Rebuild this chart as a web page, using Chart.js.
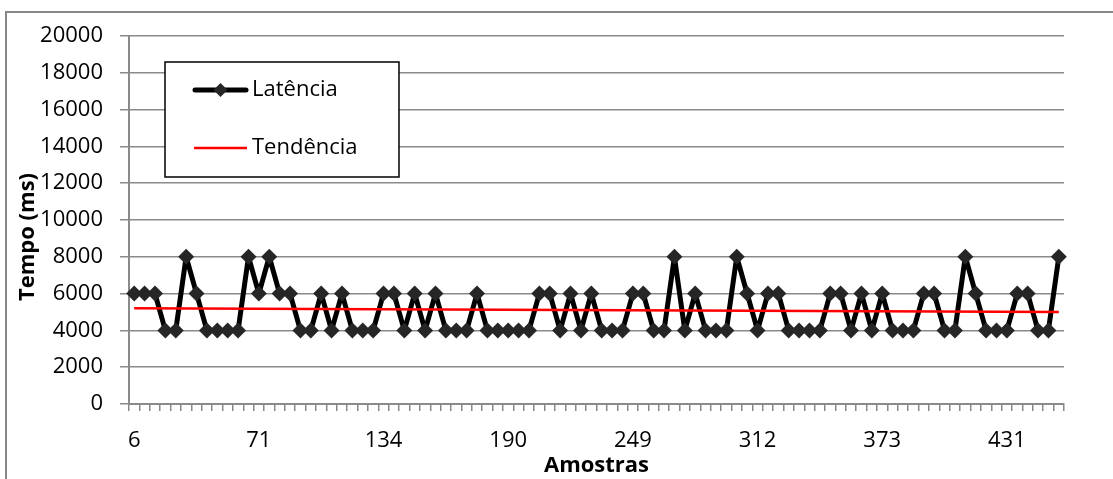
<!DOCTYPE html>
<html>
<head>
<meta charset="utf-8">
<script src="https://cdn.jsdelivr.net/npm/chart.js@4/dist/chart.umd.min.js"></script>
<style>
  html, body { margin: 0; padding: 0; background: #ffffff; }
  canvas { display: block; }
</style>
</head>
<body>
<canvas id="chart" width="1113" height="479"></canvas>
<script>
// Sample numbers along the horizontal axis (every 12th one is labelled)
const samples = [
  6, 11, 17, 22, 28, 33, 38, 44, 49, 55, 60, 66,
  71, 76, 82, 87, 92, 97, 103, 108, 113, 118, 124, 129,
  134, 139, 143, 148, 153, 157, 162, 167, 171, 176, 181, 185,
  190, 195, 200, 205, 210, 215, 220, 224, 229, 234, 239, 244,
  249, 254, 260, 265, 270, 275, 281, 286, 291, 296, 302, 307,
  312, 317, 322, 327, 332, 337, 343, 348, 353, 358, 363, 368,
  373, 378, 383, 387, 392, 397, 402, 407, 412, 416, 421, 426,
  431, 436, 441, 446, 451, 456
];

// Measured latency per sample, in ms
const latencia = [
  6000, 6000, 6000, 4000, 4000, 8000, 6000, 4000, 4000, 4000, 4000, 8000,
  6000, 8000, 6000, 6000, 4000, 4000, 6000, 4000, 6000, 4000, 4000, 4000,
  6000, 6000, 4000, 6000, 4000, 6000, 4000, 4000, 4000, 6000, 4000, 4000,
  4000, 4000, 4000, 6000, 6000, 4000, 6000, 4000, 6000, 4000, 4000, 4000,
  6000, 6000, 4000, 4000, 8000, 4000, 6000, 4000, 4000, 4000, 8000, 6000,
  4000, 6000, 6000, 4000, 4000, 4000, 4000, 6000, 6000, 4000, 6000, 4000,
  6000, 4000, 4000, 4000, 6000, 6000, 4000, 4000, 8000, 6000, 4000, 4000,
  4000, 6000, 6000, 4000, 4000, 8000
];

// Linear trend line end values (ms)
const trendEnds = [5200, 5000];

// Vertical axis range and step
const yRange = [0, 20000];
const yStep = 2000;

const seriesNames = ['Latência', 'Tendência'];
const xTitle = 'Amostras';
const yTitle = 'Tempo (ms)';

const FONT = '"Open Sans", "Liberation Sans", sans-serif';
const GRID = '#8a8a8a';

// Trend series: only the two end points, joined by a straight segment
const trendData = samples.map((_, i) =>
  i === 0 ? trendEnds[0] : (i === samples.length - 1 ? trendEnds[1] : null));

// Frame, axis titles and the boxed legend
const decor = {
  id: 'decor',
  afterDraw(chart) {
    const { ctx, chartArea: a } = chart;
    ctx.save();

    // outer frame
    ctx.strokeStyle = '#878787';
    ctx.lineWidth = 2;
    ctx.strokeRect(6, 12, 1130, 490);

    // axis titles
    ctx.fillStyle = '#000000';
    ctx.font = 'bold 22px ' + FONT;
    ctx.textAlign = 'center';
    ctx.textBaseline = 'middle';
    ctx.fillText(xTitle, (a.left + a.right) / 2, 466);
    ctx.save();
    ctx.translate(28, 237);
    ctx.rotate(-Math.PI / 2);
    ctx.fillText(yTitle, 0, 0);
    ctx.restore();

    // legend box
    ctx.fillStyle = '#ffffff';
    ctx.fillRect(165, 62, 234, 115);
    ctx.strokeStyle = '#000000';
    ctx.lineWidth = 1.5;
    ctx.strokeRect(165, 62, 234, 115);

    // Latência sample
    ctx.strokeStyle = '#000000';
    ctx.lineWidth = 5;
    ctx.lineCap = 'round';
    ctx.beginPath();
    ctx.moveTo(195, 90);
    ctx.lineTo(246, 90);
    ctx.stroke();
    ctx.fillStyle = '#262626';
    ctx.beginPath();
    ctx.moveTo(220.5 - 7, 90);
    ctx.lineTo(220.5, 83);
    ctx.lineTo(220.5 + 7, 90);
    ctx.lineTo(220.5, 97);
    ctx.closePath();
    ctx.fill();

    // Tendência sample
    ctx.strokeStyle = '#ff0000';
    ctx.lineWidth = 2.5;
    ctx.lineCap = 'butt';
    ctx.beginPath();
    ctx.moveTo(194, 148);
    ctx.lineTo(247, 148);
    ctx.stroke();

    ctx.fillStyle = '#000000';
    ctx.font = '22px ' + FONT;
    ctx.textAlign = 'left';
    ctx.textBaseline = 'middle';
    ctx.fillText(seriesNames[0], 252, 90);
    ctx.fillText(seriesNames[1], 252, 148);

    ctx.restore();
  }
};

new Chart(document.getElementById('chart'), {
  type: 'line',
  data: {
    labels: samples,
    datasets: [
      {
        label: seriesNames[0],
        data: latencia,
        order: 1,
        borderColor: '#000000',
        borderWidth: 5,
        borderJoinStyle: 'round',
        borderCapStyle: 'round',
        tension: 0,
        pointStyle: 'rectRot',
        pointRadius: 8,
        pointHoverRadius: 8,
        pointBackgroundColor: '#262626',
        pointBorderColor: '#262626',
        pointBorderWidth: 0
      },
      {
        label: seriesNames[1],
        data: trendData,
        order: 0,
        spanGaps: true,
        borderColor: '#ff0000',
        borderWidth: 2.5,
        pointRadius: 0,
        pointHoverRadius: 0
      }
    ]
  },
  options: {
    responsive: false,
    animation: false,
    events: [],
    layout: { padding: { left: 0, top: 36, right: 49, bottom: 0 } },
    plugins: {
      legend: { display: false },
      tooltip: { enabled: false }
    },
    scales: {
      x: {
        type: 'category',
        offset: true,
        grid: {
          display: true,
          drawOnChartArea: false,
          drawTicks: true,
          tickLength: 7,
          offset: true,
          color: GRID,
          lineWidth: 1.5
        },
        border: { display: true, color: GRID, width: 2 },
        ticks: {
          autoSkip: false,
          maxRotation: 0,
          minRotation: 0,
          padding: 17,
          color: '#000000',
          font: { family: FONT, size: 22 },
          callback: (v, i) => (i % 12 === 0 ? String(samples[i]) : '')
        },
        afterFit: s => { s.height = 75; }
      },
      y: {
        min: yRange[0],
        max: yRange[1],
        grid: {
          color: GRID,
          lineWidth: 1.5,
          drawTicks: true,
          tickLength: 9
        },
        border: { display: true, color: GRID, width: 2 },
        ticks: {
          stepSize: yStep,
          padding: 17,
          color: '#000000',
          font: { family: FONT, size: 22 },
          callback: v => String(v)
        },
        afterFit: s => { s.width = 129; }
      }
    }
  },
  plugins: [decor]
});
</script>
</body>
</html>
